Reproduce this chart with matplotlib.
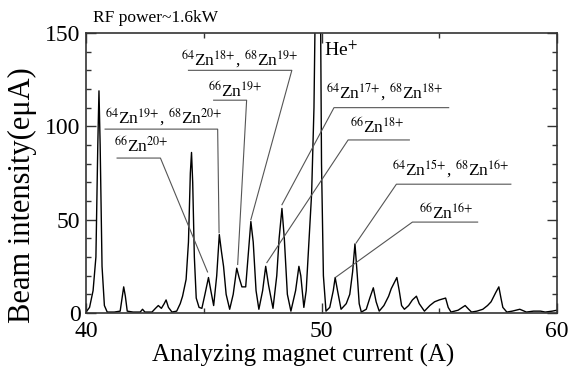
import numpy as np
import matplotlib
matplotlib.use('Agg')
import matplotlib.pyplot as plt
from matplotlib.ticker import MultipleLocator

plt.rcParams['font.family'] = ['Liberation Serif', 'DejaVu Serif']
plt.rcParams['mathtext.fontset'] = 'stix'

# spectrum: magnet current (A) vs beam intensity (euA)
current = [40.0, 40.15, 40.3, 40.42, 40.5, 40.55, 40.6, 40.68, 40.78, 40.9,
           41.2, 41.45, 41.53, 41.6, 41.67, 41.75, 42.0, 42.3, 42.4, 42.5,
           42.8, 42.95, 43.07, 43.2, 43.32, 43.4, 43.5, 43.65, 43.85, 44.0,
           44.1, 44.25, 44.35, 44.43, 44.48, 44.53, 44.6, 44.68, 44.8, 44.92,
           45.05, 45.2, 45.3, 45.42, 45.55, 45.66, 45.75, 45.84, 45.95, 46.1,
           46.25, 46.4, 46.5, 46.62, 46.78, 46.88, 47.0, 47.1, 47.22, 47.34,
           47.5, 47.63, 47.75, 47.94, 48.1, 48.2, 48.32, 48.42, 48.55, 48.7,
           48.9, 49.04, 49.12, 49.25, 49.35, 49.45, 49.58, 49.68, 49.75, 49.85,
           49.95, 50.0, 50.08, 50.19, 50.35, 50.5, 50.58, 50.68, 50.83, 51.05,
           51.2, 51.32, 51.42, 51.52, 51.6, 51.69, 51.9, 52.05, 52.2, 52.32,
           52.45, 52.65, 52.85, 52.96, 53.2, 53.3, 53.4, 53.52, 53.7, 53.86,
           54.03, 54.15, 54.37, 54.6, 54.8, 55.0, 55.27, 55.38, 55.5, 55.8,
           56.1, 56.25, 56.37, 56.6, 56.85, 57.05, 57.2, 57.4, 57.53, 57.62,
           57.7, 57.87, 58.1, 58.42, 58.7, 59.0, 59.3, 59.5, 59.8, 60.0]
intensity = [0.5, 3, 12, 30, 90, 119, 90, 25, 4, 0.5,
             0.5, 1, 8, 14, 9, 1, 0.5, 0.5, 2, 0.5,
             0.5, 2.5, 4, 2.5, 5, 7, 3, 0.5, 1, 5,
             9, 18, 38, 75, 86, 70, 30, 8, 3, 2.5,
             10, 19, 12, 4, 20, 42, 33, 25, 10, 2,
             10, 24, 19, 14, 14, 30, 49, 38, 12, 2,
             12, 25, 15, 2.5, 20, 40, 56, 40, 10, 1,
             12, 25, 20, 3, 12, 35, 64, 110, 180, 300,
             180, 80, 20, 1, 3, 12, 19, 12, 2, 5,
             10, 22, 37, 20, 5, 0.5, 2, 8, 13.5, 6,
             1, 4, 9, 13, 19, 12, 4, 2, 4, 7,
             9, 5, 1, 4, 6, 7, 8, 3, 0.5, 1.5,
             4, 2, 0.5, 1, 2, 4, 6, 11, 14, 8,
             3, 0.5, 1, 2, 0.5, 1, 1, 0.5, 1, 1.5]

# peak labels: text, text anchor (x, y), leader polyline
labels = [r'$^{64}$Zn$^{18{+}}$, $^{68}$Zn$^{19{+}}$',
          r'$^{66}$Zn$^{19{+}}$',
          r'$^{64}$Zn$^{19{+}}$, $^{68}$Zn$^{20{+}}$',
          r'$^{66}$Zn$^{20{+}}$',
          r'$^{64}$Zn$^{17{+}}$, $^{68}$Zn$^{18{+}}$',
          r'$^{66}$Zn$^{18{+}}$',
          r'$^{64}$Zn$^{15{+}}$, $^{68}$Zn$^{16{+}}$',
          r'$^{66}$Zn$^{16{+}}$']
text_xy = [(44.05, 132.5), (45.16, 115.7), (40.81, 101.8), (41.19, 86.2),
           (50.19, 115.0), (51.2, 96.4), (53.0, 73.9), (54.16, 50.3)]
leaders = [([44.35, 48.74, 47.0], [130, 130, 50]),
           ([45.42, 46.82, 46.44], [114, 114, 26]),
           ([40.81, 45.59, 45.65], [98.5, 98.5, 43]),
           ([41.32, 43.16, 45.16], [83, 83, 22]),
           ([55.4, 50.53, 48.32], [110, 110, 58]),
           ([53.73, 51.13, 47.68], [92.7, 92.7, 27]),
           ([58.04, 53.18, 51.47], [69, 69, 37.5]),
           ([56.63, 53.86, 50.62], [48.7, 48.7, 19.3])]

fig = plt.figure(figsize=(5.75, 3.74), dpi=100)
ax = fig.add_axes([0.1496, 0.1631, 0.8191, 0.7487])

ax.plot(current, intensity, color='black', lw=1.0)

for lab, (tx, ty), (lx, ly) in zip(labels, text_xy, leaders):
    ax.plot(lx, ly, color='#555555', lw=0.8)
    ax.text(tx, ty, lab, fontsize=12.5, va='baseline', ha='left')

ax.text(50.1, 141, r'He$^{+}$', fontsize=14, va='center', ha='left')

ax.set_xlim(40, 60)
ax.set_ylim(0, 150)
ax.xaxis.set_major_locator(MultipleLocator(10))
ax.xaxis.set_minor_locator(MultipleLocator(5))
ax.yaxis.set_major_locator(MultipleLocator(50))
ax.yaxis.set_minor_locator(MultipleLocator(10))
ax.tick_params(which='both', direction='in', top=True, right=True,
               color='#333333', width=1.0)
ax.tick_params(which='major', length=7, labelsize=17, pad=4)
ax.tick_params(axis='x', which='major', pad=6)
ax.tick_params(which='minor', length=3.5)
for s in ax.spines.values():
    s.set_linewidth(1.2)
    s.set_color('#333333')

ax.set_xlabel('Analyzing magnet current (A)', fontsize=18)
ax.xaxis.set_label_coords(0.46, -0.11)
ax.set_ylabel('Beam intensity(e\u03bcA)', fontsize=22)
ax.yaxis.set_label_coords(-0.105, 0.42)

fig.text(93 / 575, 1 - 22 / 374, 'RF power~1.6kW', fontsize=12.5, va='baseline')

fig.savefig('out.png', dpi=100)
